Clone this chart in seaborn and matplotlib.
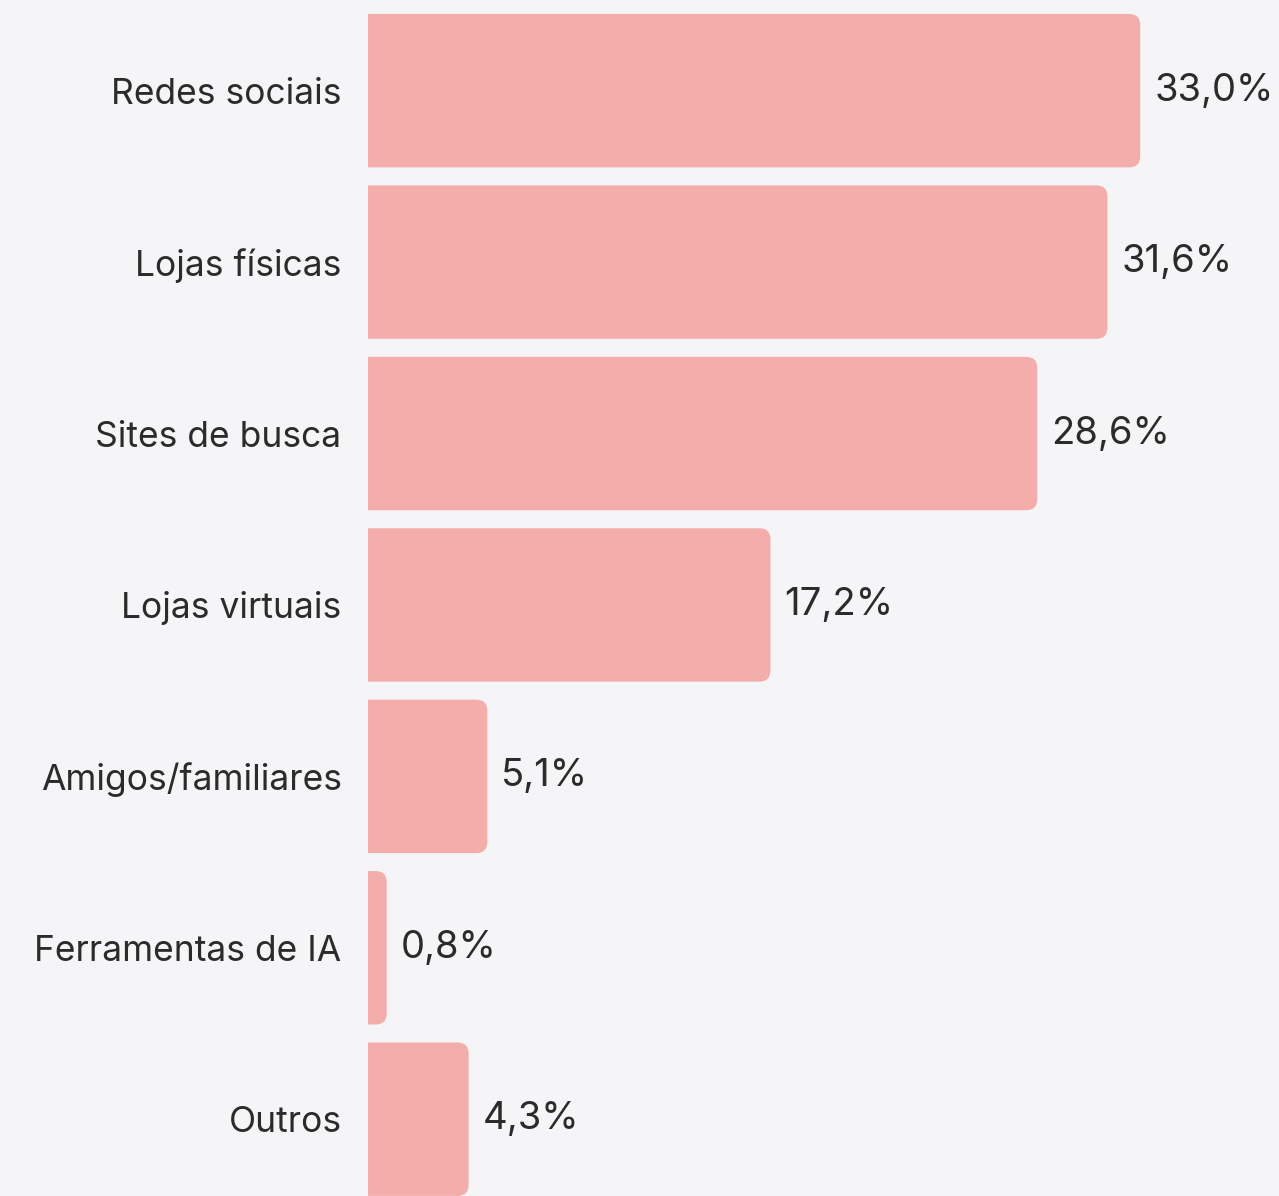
import pandas as pd
import matplotlib.pyplot as plt
import seaborn as sns
from matplotlib.patches import FancyBboxPatch

# dados
canais = ['Redes sociais', 'Lojas físicas', 'Sites de busca', 'Lojas virtuais',
          'Amigos/familiares', 'Ferramentas de IA', 'Outros']
percentuais = [33.0, 31.6, 28.6, 17.2, 5.1, 0.8, 4.3]
rotulos = ['33,0%', '31,6%', '28,6%', '17,2%', '5,1%', '0,8%', '4,3%']

df = pd.DataFrame({'canal': canais, 'pct': percentuais})

fundo = '#f5f5f7'
cor_barra = '#f3aeab'
cor_texto = '#2b2b2b'

sns.set_style('white')
plt.rcParams['font.family'] = ['Inter', 'DejaVu Sans']

fig = plt.figure(figsize=(12.79, 11.96), dpi=100, facecolor=fundo)
ax = fig.add_axes([368 / 1279, 0, 1 - 368 / 1279, 1])
ax.set_facecolor(fundo)

sns.barplot(data=df, x='pct', y='canal', color=cor_barra, saturation=1,
            width=0.895, ax=ax)

ax.set_xlim(0, 38.93)
ax.set_ylim(6.448, -0.529)

# barras com canto arredondado so a direita
fig.canvas.draw()
px_x = ax.bbox.width / 38.93
px_y = ax.bbox.height / (6.448 + 0.529)
raio = 11 / px_x
for barra in list(ax.patches):
    x0, y0 = barra.get_x(), barra.get_y()
    w, h = barra.get_width(), barra.get_height()
    barra.remove()
    ax.add_patch(FancyBboxPatch((x0 - 2, y0), w + 2, h,
                                boxstyle=f'round,pad=0,rounding_size={raio}',
                                mutation_aspect=px_x / px_y,
                                facecolor=cor_barra, edgecolor='none'))

for i, (v, r) in enumerate(zip(percentuais, rotulos)):
    ax.annotate(r, xy=(v, i), xytext=(10, 0), textcoords='offset points',
                ha='left', va='center', fontsize=27.5, color=cor_texto)

ax.set_xlabel('')
ax.set_ylabel('')
ax.set_xticks([])
ax.tick_params(axis='y', length=0, pad=19, labelsize=25.5, labelcolor=cor_texto)
sns.despine(ax=ax, left=True, bottom=True)

plt.savefig('out.png', dpi=100, facecolor=fundo)
